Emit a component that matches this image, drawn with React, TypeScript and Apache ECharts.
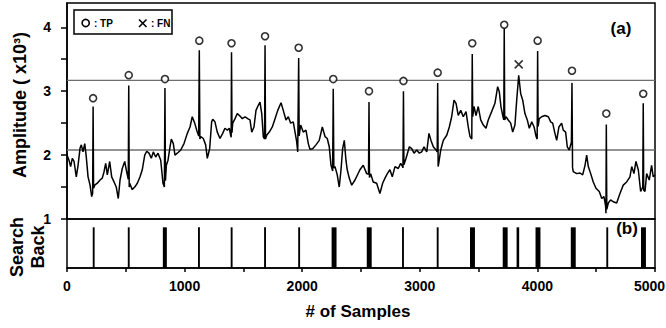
import React, { useEffect, useRef } from "react";
import * as echarts from "echarts";

// ---- data ----
const ampTrace: [number, number][] = [
  [0, 2.0], [17, 1.92], [31, 1.82], [45, 1.95], [60, 1.9], [79, 1.66], [94, 1.84], [111, 2.11], [122, 2.16], [136, 2.05], [151, 2.18], [164, 1.97], [179, 1.66], [196, 1.53], [210, 1.35],
  [218, 1.4], [222, 2.76], [226, 1.48],
  [236, 1.53], [258, 1.56], [281, 1.61], [300, 1.64], [315, 1.74], [329, 1.87], [343, 1.69], [363, 1.9], [380, 1.66], [400, 1.58], [419, 1.5], [436, 1.32], [451, 1.61], [470, 1.79], [491, 1.9], [504, 1.77],
  [521, 1.62], [525, 3.09], [529, 1.5],
  [533, 1.56], [555, 1.46], [576, 1.5], [598, 1.56], [621, 1.66], [640, 1.77], [661, 2.0], [678, 2.06], [697, 2.03], [717, 1.95], [734, 2.05], [754, 1.97], [774, 2.03], [797, 1.92], [816, 1.56],
  [828, 1.5], [833, 3.05], [837, 1.6],
  [845, 1.84], [859, 1.92], [876, 2.13], [887, 2.25], [904, 2.18], [918, 2.0], [938, 2.03], [967, 2.08], [995, 2.18], [1023, 2.34], [1046, 2.44], [1065, 2.6], [1086, 2.5], [1103, 2.39],
  [1120, 2.3], [1125, 3.64], [1130, 2.25],
  [1137, 2.29], [1159, 2.26], [1179, 2.16], [1193, 1.95], [1213, 2.1], [1230, 2.52], [1239, 2.56], [1258, 2.52], [1278, 2.36], [1301, 2.26], [1324, 2.34], [1343, 2.42], [1363, 2.39], [1380, 2.42], [1392, 2.31],
  [1396, 2.28], [1399, 3.61], [1403, 2.35],
  [1409, 2.5], [1429, 2.57], [1448, 2.65], [1471, 2.61], [1491, 2.57], [1514, 2.6], [1536, 2.57], [1556, 2.55], [1571, 2.36], [1590, 2.44], [1607, 2.7], [1627, 2.78], [1641, 2.83], [1656, 2.65], [1669, 2.29],
  [1680, 2.25], [1684, 3.72], [1688, 2.25],
  [1698, 2.31], [1720, 2.36], [1746, 2.44], [1769, 2.57], [1792, 2.7], [1820, 2.82], [1839, 2.7], [1862, 2.55], [1882, 2.6], [1902, 2.5], [1924, 2.52], [1939, 2.36], [1953, 2.21], [1962, 2.05],
  [1966, 2.05], [1970, 3.52], [1974, 2.3],
  [1987, 2.47], [2009, 2.36], [2032, 2.39], [2052, 2.18], [2066, 2.09], [2089, 2.1], [2117, 2.16], [2145, 2.23], [2171, 2.44], [2194, 2.29], [2213, 2.26], [2230, 2.13], [2245, 1.84],
  [2259, 1.75], [2264, 3.04], [2269, 1.8],
  [2279, 1.82], [2298, 1.69], [2315, 1.5], [2330, 1.77], [2344, 2.1], [2358, 2.23], [2372, 1.92], [2383, 1.77], [2400, 1.64], [2421, 1.53], [2449, 1.61], [2491, 1.77], [2519, 1.84], [2548, 1.71],
  [2564, 1.7], [2568, 2.83], [2572, 1.65],
  [2582, 1.71], [2604, 1.58], [2633, 1.56], [2661, 1.4], [2684, 1.56], [2704, 1.64], [2724, 1.71], [2746, 1.77], [2766, 1.66], [2789, 1.82], [2817, 1.79], [2837, 1.87], [2854, 1.82],
  [2857, 1.8], [2861, 3.0], [2865, 1.85],
  [2883, 1.95], [2911, 2.13], [2931, 2.1], [2951, 2.03], [2974, 2.08], [2996, 2.03], [3016, 2.05], [3036, 2.13], [3059, 2.05], [3078, 2.34], [3095, 2.23], [3115, 2.13], [3138, 2.08],
  [3148, 2.05], [3152, 3.13], [3156, 1.82],
  [3161, 1.87], [3178, 2.08], [3200, 2.23], [3229, 2.31], [3251, 2.44], [3271, 2.6], [3291, 2.86], [3308, 2.81], [3327, 2.62], [3348, 2.7], [3370, 2.6], [3393, 2.68], [3412, 2.44], [3427, 2.29],
  [3442, 2.25], [3446, 3.58], [3450, 2.6],
  [3461, 2.76], [3478, 2.62], [3497, 2.76], [3518, 2.55], [3540, 2.47], [3563, 2.42], [3582, 2.55], [3611, 2.68], [3639, 2.81], [3662, 3.07], [3676, 2.99], [3690, 2.76], [3705, 2.62],
  [3714, 2.55], [3718, 3.98], [3722, 2.55],
  [3733, 2.6], [3752, 2.55], [3773, 2.5], [3790, 2.36], [3809, 2.47], [3824, 2.86], [3841, 3.25], [3858, 2.96], [3875, 2.86], [3894, 2.65], [3914, 2.55], [3931, 2.42], [3952, 2.52], [3972, 2.44], [3989, 2.29],
  [3998, 2.25], [4002, 3.63], [4006, 2.45],
  [4016, 2.57], [4036, 2.6], [4064, 2.62], [4093, 2.6], [4113, 2.52], [4130, 2.5], [4149, 2.34], [4164, 2.23], [4183, 2.44], [4206, 2.5], [4220, 2.39], [4240, 2.36], [4254, 2.13], [4271, 2.08],
  [4289, 2.2], [4294, 3.13], [4299, 1.8],
  [4305, 1.74], [4334, 1.71], [4362, 1.72], [4385, 1.69], [4405, 1.84], [4419, 2.0], [4433, 1.82], [4453, 1.71], [4475, 1.58], [4498, 1.48], [4526, 1.43], [4547, 1.32], [4566, 1.35],
  [4580, 1.2], [4583, 1.09], [4586, 2.48], [4590, 1.15],
  [4603, 1.25], [4623, 1.3], [4645, 1.27], [4674, 1.25], [4702, 1.4], [4730, 1.53], [4759, 1.58], [4787, 1.66], [4802, 1.82], [4821, 1.71], [4838, 1.9], [4858, 1.77], [4878, 1.43],
  [4896, 1.5], [4900, 2.81], [4904, 1.45],
  [4915, 1.43], [4929, 1.71], [4951, 1.61], [4971, 1.84], [4985, 1.66], [5000, 1.69],
];

const tpSamples = [222, 525, 833, 1125, 1399, 1684, 1970, 2264, 2568, 2861, 3152, 3446, 3718, 4002, 4294, 4586, 4900];
const tpMarkerAmp = [2.89, 3.25, 3.19, 3.79, 3.75, 3.86, 3.68, 3.19, 3.0, 3.16, 3.29, 3.75, 4.04, 3.79, 3.32, 2.65, 2.96];
const fnSamples = [3841];
const fnMarkerAmp = [3.42];
const thresholds = [3.17, 2.08];

const searchBackStart = [219, 517, 815, 1114, 1392, 1676, 1966, 2250, 2549, 2849, 3144, 3427, 3705, 3823, 3984, 4284, 4586, 4881];
const searchBackEnd = [235, 533, 849, 1130, 1408, 1692, 1982, 2292, 2591, 2865, 3160, 3469, 3747, 3845, 4026, 4326, 4602, 4923];
const searchBackLevel = 0.83;

const yTickValues = [1, 1.5, 2, 2.5, 3, 3.5, 4];
const yLabelValues = [1, 2, 3, 4];
const xLabelValues = [0, 1000, 2000, 3000, 4000, 5000];

const FONT = "'Liberation Sans', Arial, sans-serif";

export default function App() {
  const ref = useRef<HTMLDivElement>(null);
  useEffect(() => {
    if (!ref.current) return;
    const chart = echarts.init(ref.current, null, { renderer: "svg" });
    const xMax = xLabelValues[xLabelValues.length - 1];
    const option: any = {
      animation: false,
      backgroundColor: "#fff",
      grid: [
        { left: 67, top: 3, width: 588, height: 216, show: true, borderColor: "#000", borderWidth: 1.5, backgroundColor: "transparent", outerBoundsMode: "none", containLabel: false },
        { left: 67, top: 219, width: 588, height: 49, show: true, borderColor: "#000", borderWidth: 1.5, backgroundColor: "transparent", outerBoundsMode: "none", containLabel: false },
      ],
      xAxis: [
        { gridIndex: 0, type: "value", min: 0, max: 5000, show: false, splitLine: { show: false } },
        {
          gridIndex: 1, type: "value", min: 0, max: 5000, interval: 500,
          axisLine: { show: true, lineStyle: { color: "#000", width: 1.5 } },
          axisTick: { show: true, length: 4, lineStyle: { color: "#000", width: 1.5 } },
          axisLabel: {
            customValues: xLabelValues,
            formatter: (v: number) => (v === xMax ? `{e|${v}}` : String(v)),
            rich: { e: { padding: [0, 11, 0, 0], color: "#000", fontFamily: FONT, fontWeight: "bold", fontSize: 14 } },
            showMinLabel: true, showMaxLabel: true,
            margin: 11, color: "#000", fontFamily: FONT, fontWeight: "bold", fontSize: 14,
          },
          splitLine: { show: false },
        },
      ],
      yAxis: [
        {
          gridIndex: 0, type: "value", min: 1, max: 4.38,
          axisLine: { show: true, lineStyle: { color: "#000", width: 1.5 } },
          axisTick: { show: true, customValues: yTickValues, length: 6, lineStyle: { color: "#000", width: 1.5 } },
          axisLabel: {
            customValues: yLabelValues,
            formatter: (v: number) => String(v),
            margin: 16, color: "#000", fontFamily: FONT, fontWeight: "bold", fontSize: 14,
          },
          splitLine: { show: false },
        },
        { gridIndex: 1, type: "value", min: 0, max: 1, show: false, splitLine: { show: false } },
      ],
      series: [
        ...thresholds.map((t, i) => ({
          name: "threshold" + i,
          type: "line", xAxisIndex: 0, yAxisIndex: 0,
          data: [[0, t], [5000, t]],
          showSymbol: false, silent: true,
          lineStyle: { color: "#6e6e6e", width: 1.3 },
          z: 1,
        })),
        {
          name: "Amplitude", type: "line", xAxisIndex: 0, yAxisIndex: 0,
          data: ampTrace, showSymbol: false, symbol: "none",
          lineStyle: { color: "#000", width: 1.5 },
          z: 2,
        },
        {
          name: "TP", type: "scatter", xAxisIndex: 0, yAxisIndex: 0,
          data: tpSamples.map((s, i) => [s, tpMarkerAmp[i]]),
          symbol: "circle", symbolSize: 7,
          itemStyle: { color: "#fff", borderColor: "#000", borderWidth: 1.6 },
          z: 3,
        },
        {
          name: "FN", type: "scatter", xAxisIndex: 0, yAxisIndex: 0,
          data: fnSamples.map((s, i) => [s, fnMarkerAmp[i]]),
          symbol: "path://M0,0L10,10M10,0L0,10", symbolSize: 8,
          itemStyle: { color: "none", borderColor: "#000", borderWidth: 1.6 },
          z: 3,
        },
        {
          name: "Search Back", type: "custom", xAxisIndex: 1, yAxisIndex: 1,
          data: searchBackStart.map((s, i) => [s, searchBackEnd[i]]),
          encode: { x: [0, 1] },
          renderItem: (params: any, api: any) => {
            const p0 = api.coord([api.value(0), searchBackLevel]);
            const p1 = api.coord([api.value(1), 0]);
            return {
              type: "rect",
              shape: { x: p0[0], y: p0[1], width: Math.max(p1[0] - p0[0], 1.5), height: p1[1] - p0[1] },
              style: { fill: "#000" },
            };
          },
        },
      ],
      graphic: [
        { type: "rect", shape: { x: 74, y: 10, width: 98, height: 24 }, style: { fill: "#fff", stroke: "#000", lineWidth: 1.5 }, z: 10 },
        { type: "circle", shape: { cx: 85.7, cy: 23, r: 3.6 }, style: { fill: "none", stroke: "#000", lineWidth: 1.6 }, z: 11 },
        { type: "text", x: 94, y: 23, style: { text: ": TP", fill: "#000", font: `bold 10px ${FONT}`, verticalAlign: "middle", align: "left" }, z: 11 },
        { type: "line", shape: { x1: 139, y1: 19.5, x2: 146.5, y2: 27 }, style: { stroke: "#000", lineWidth: 1.6 }, z: 11 },
        { type: "line", shape: { x1: 146.5, y1: 19.5, x2: 139, y2: 27 }, style: { stroke: "#000", lineWidth: 1.6 }, z: 11 },
        { type: "text", x: 151, y: 23, style: { text: ": FN", fill: "#000", font: `bold 10px ${FONT}`, verticalAlign: "middle", align: "left" }, z: 11 },
        { type: "text", x: 621, y: 28.5, style: { text: "(a)", fill: "#000", font: `bold 17px ${FONT}`, align: "center", verticalAlign: "middle" }, z: 11 },
        { type: "text", x: 627, y: 228, style: { text: "(b)", fill: "#000", font: `bold 17px ${FONT}`, align: "center", verticalAlign: "middle" }, z: 11 },
        { type: "text", x: 20, y: 105, rotation: Math.PI / 2, style: { text: "Amplitude ( x10³)", fill: "#000", font: `bold 18px ${FONT}`, align: "center", verticalAlign: "middle" }, z: 11 },
        { type: "text", x: 27, y: 247, rotation: Math.PI / 2, style: { text: "Search\nBack", fill: "#000", font: `bold 18px ${FONT}`, lineHeight: 21, align: "center", verticalAlign: "middle" }, z: 11 },
        { type: "text", x: 358, y: 311, style: { text: "# of Samples", fill: "#000", font: `bold 17px ${FONT}`, align: "center", verticalAlign: "middle" }, z: 11 },
      ],
    };
    chart.setOption(option);
    return () => chart.dispose();
  }, []);
  return <div ref={ref} style={{ position: "fixed", left: 0, top: 0, width: 666, height: 328 }} />;
}
